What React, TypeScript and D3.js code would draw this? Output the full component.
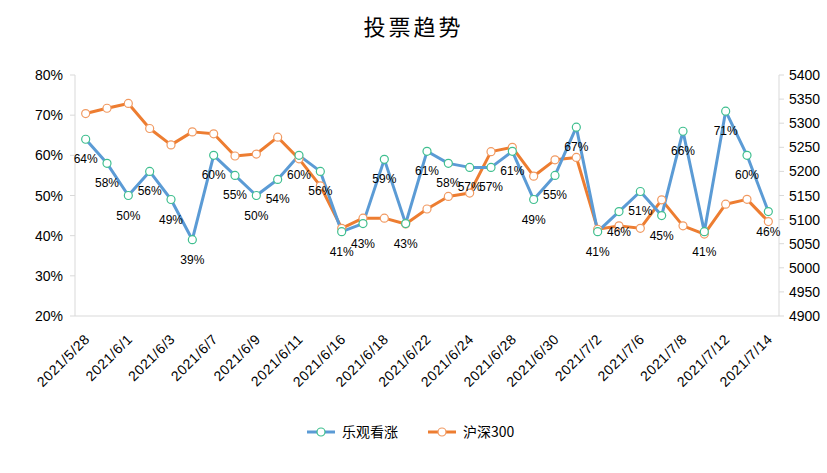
import React from "react";
import * as d3 from "d3";

const dates = [
  "2021/5/28", "2021/5/31", "2021/6/1", "2021/6/2", "2021/6/3", "2021/6/4", "2021/6/7", "2021/6/8",
  "2021/6/9", "2021/6/10", "2021/6/11", "2021/6/15", "2021/6/16", "2021/6/17", "2021/6/18", "2021/6/21",
  "2021/6/22", "2021/6/23", "2021/6/24", "2021/6/25", "2021/6/28", "2021/6/29", "2021/6/30", "2021/7/1",
  "2021/7/2", "2021/7/5", "2021/7/6", "2021/7/7", "2021/7/8", "2021/7/9", "2021/7/12", "2021/7/13", "2021/7/14",
];

const bullish = [
  64, 58, 50, 56, 49, 39, 60, 55, 50, 54, 60, 56, 41, 43, 59, 43, 61, 58, 57, 57, 61, 49, 55, 67, 41, 46, 51,
  45, 66, 41, 71, 60, 46,
];

const hs300 = [
  5320, 5331, 5341, 5289, 5255, 5282, 5278, 5232, 5236, 5271, 5226, 5170, 5082, 5103, 5103, 5091, 5122, 5148,
  5155, 5241, 5250, 5190, 5224, 5229, 5080, 5087, 5082, 5141, 5087, 5070, 5132, 5142, 5096,
];

const leftTicks = [20, 30, 40, 50, 60, 70, 80];
const rightTicks = [4900, 4950, 5000, 5050, 5100, 5150, 5200, 5250, 5300, 5350, 5400];

const title = "投票趋势";
const seriesNames = ["乐观看涨", "沪深300"];

const W = 827;
const H = 473;
const plot = { left: 75, right: 779, top: 75, bottom: 316 };

const BLUE = "#5B9BD5";
const BLUE_MARK = "#3FBF8F";
const ORANGE = "#ED7D31";
const ORANGE_MARK = "#F19A62";
const AXIS = "#D9D9D9";
const latin = "'Liberation Sans', Arial, sans-serif";
const cjk = "'Noto Sans CJK SC', sans-serif";

export default function App() {
  const x = d3.scaleBand<string>().domain(dates).range([plot.left, plot.right]);
  const cx = (d: string) => (x(d) as number) + x.bandwidth() / 2;
  const yL = d3.scaleLinear().domain([20, 80]).range([plot.bottom, plot.top]);
  const yR = d3.scaleLinear().domain([4900, 5400]).range([plot.bottom, plot.top]);

  const lineL = d3
    .line<number>()
    .x((_, i) => cx(dates[i]))
    .y((d) => yL(d));
  const lineR = d3
    .line<number>()
    .x((_, i) => cx(dates[i]))
    .y((d) => yR(d));

  return (
    <svg width={W} height={H} style={{ position: "absolute", left: 0, top: 0, background: "#fff" }}>
      <rect x={0} y={0} width={W} height={H} fill="#fff" />
      <text
        x={W / 2}
        y={35}
        textAnchor="middle"
        fontFamily={cjk}
        fontSize={22}
        letterSpacing={3}
        fill="#000"
      >
        {title}
      </text>

      {/* axes */}
      <line x1={plot.left} x2={plot.left} y1={plot.top} y2={plot.bottom} stroke={AXIS} />
      <line x1={plot.right} x2={plot.right} y1={plot.top} y2={plot.bottom} stroke={AXIS} />
      <line x1={plot.left} x2={plot.right} y1={plot.bottom} y2={plot.bottom} stroke={AXIS} />

      {leftTicks.map((t) => (
        <g key={"l" + t}>
          <line x1={plot.left - 5} x2={plot.left} y1={yL(t)} y2={yL(t)} stroke={AXIS} />
          <text x={plot.left - 12} y={yL(t) + 5} textAnchor="end" fontFamily={latin} fontSize={14} fill="#000">
            {t}%
          </text>
        </g>
      ))}
      {rightTicks.map((t) => (
        <g key={"r" + t}>
          <line x1={plot.right} x2={plot.right + 5} y1={yR(t)} y2={yR(t)} stroke={AXIS} />
          <text x={plot.right + 10} y={yR(t) + 5} textAnchor="start" fontFamily={latin} fontSize={14} fill="#000">
            {t}
          </text>
        </g>
      ))}

      {dates.map((d, i) =>
        i % 2 === 0 ? (
          <text
            key={"x" + d}
            transform={`translate(${cx(d) + 5},${plot.bottom + 24}) rotate(-45)`}
            textAnchor="end"
            fontFamily={latin}
            fontSize={14}
            letterSpacing={0.6}
            fill="#000"
          >
            {d}
          </text>
        ) : null
      )}

      {/* series */}
      <path d={lineR(hs300) || ""} fill="none" stroke={ORANGE} strokeWidth={3} strokeLinejoin="round" />
      <path d={lineL(bullish) || ""} fill="none" stroke={BLUE} strokeWidth={3} strokeLinejoin="round" />
      {hs300.map((v, i) => (
        <circle key={"o" + i} cx={cx(dates[i])} cy={yR(v)} r={4} fill="#fff" stroke={ORANGE_MARK} strokeWidth={1.2} />
      ))}
      {bullish.map((v, i) => (
        <circle key={"b" + i} cx={cx(dates[i])} cy={yL(v)} r={4} fill="#fff" stroke={BLUE_MARK} strokeWidth={1.2} />
      ))}
      {bullish.map((v, i) => (
        <text
          key={"lb" + i}
          x={cx(dates[i])}
          y={yL(v) + 24}
          textAnchor="middle"
          fontFamily={latin}
          fontSize={12}
          fill="#000"
        >
          {v}%
        </text>
      ))}

      {/* legend */}
      <g>
        <line x1={307} x2={335} y1={432} y2={432} stroke={BLUE} strokeWidth={3} />
        <circle cx={321} cy={432} r={4} fill="#fff" stroke={BLUE_MARK} strokeWidth={1.2} />
        <text x={342} y={437} fontFamily={cjk} fontSize={14} fill="#000">
          {seriesNames[0]}
        </text>
        <line x1={428} x2={456} y1={432} y2={432} stroke={ORANGE} strokeWidth={3} />
        <circle cx={442} cy={432} r={4} fill="#fff" stroke={ORANGE_MARK} strokeWidth={1.2} />
        <text x={463} y={437} fontFamily={cjk} fontSize={14} fill="#000">
          {seriesNames[1]}
        </text>
      </g>
    </svg>
  );
}
